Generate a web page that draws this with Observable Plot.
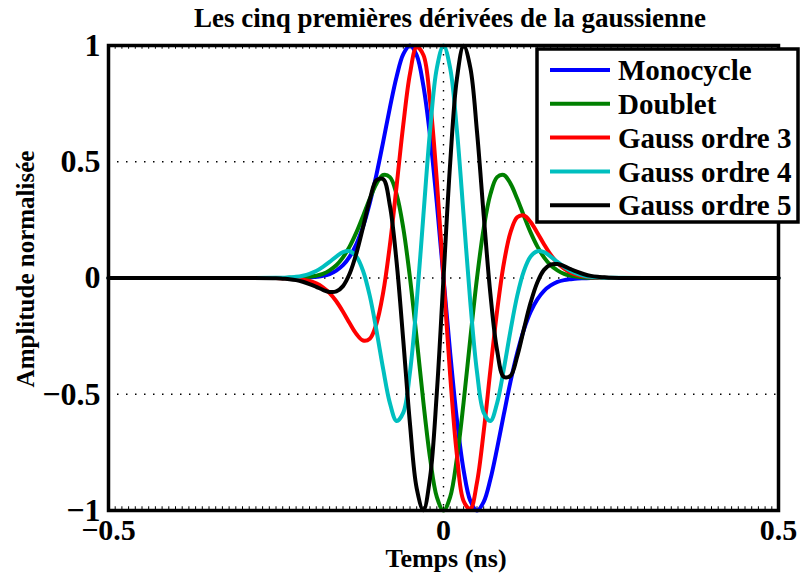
<!DOCTYPE html>
<html>
<head>
<meta charset="utf-8">
<script src="https://cdn.jsdelivr.net/npm/d3@7"></script>
<script src="https://cdn.jsdelivr.net/npm/@observablehq/plot@0.6"></script>
<style>
  body { margin: 0; background: #fff; }
  #chart svg { display: block; }
</style>
</head>
<body>
<div id="chart"></div>
<script>
// Time axis (ns)
const times = [-0.5, -0.3,
  -0.25, -0.24, -0.23, -0.22, -0.21, -0.20, -0.19, -0.18, -0.17, -0.16,
  -0.15, -0.14, -0.13, -0.12, -0.11, -0.10, -0.09, -0.08, -0.07, -0.06,
  -0.05, -0.04, -0.03, -0.02, -0.01, 0,
  0.01, 0.02, 0.03, 0.04, 0.05, 0.06, 0.07, 0.08, 0.09, 0.10,
  0.11, 0.12, 0.13, 0.14, 0.15, 0.16, 0.17, 0.18, 0.19, 0.20,
  0.21, 0.22, 0.23, 0.24, 0.25,
  0.3, 0.5];

// Normalised amplitude of each pulse
const monocycle = [0, 0,
  0, 0, 0, 0, 0.001, 0.002, 0.005, 0.009, 0.017, 0.032,
  0.055, 0.092, 0.146, 0.222, 0.323, 0.446, 0.587, 0.733, 0.866, 0.963,
  1, 0.958, 0.826, 0.609, 0.323, 0,
  -0.323, -0.609, -0.826, -0.958, -1, -0.963, -0.866, -0.733, -0.587, -0.446,
  -0.323, -0.222, -0.146, -0.092, -0.055, -0.032, -0.017, -0.009, -0.005, -0.002,
  -0.001, 0, 0, 0, 0,
  0, 0];

const doublet = [0, 0,
  0, 0, 0.001, 0.001, 0.002, 0.005, 0.010, 0.018, 0.033, 0.055,
  0.089, 0.136, 0.196, 0.267, 0.341, 0.406, 0.443, 0.434, 0.360, 0.214,
  0, -0.261, -0.535, -0.775, -0.941, -1,
  -0.941, -0.775, -0.535, -0.261, 0, 0.214, 0.360, 0.434, 0.443, 0.406,
  0.341, 0.267, 0.196, 0.136, 0.089, 0.055, 0.033, 0.018, 0.010, 0.005,
  0.002, 0.001, 0.001, 0, 0,
  0, 0];

const gauss3 = [0, 0,
  0, -0.001, -0.002, -0.003, -0.007, -0.013, -0.023, -0.040, -0.065, -0.100,
  -0.145, -0.195, -0.241, -0.269, -0.261, -0.196, -0.062, 0.142, 0.396, 0.660,
  0.879, 0.993, 0.959, 0.760, 0.420, 0,
  -0.420, -0.760, -0.959, -0.993, -0.879, -0.660, -0.396, -0.142, 0.062, 0.196,
  0.261, 0.269, 0.241, 0.195, 0.145, 0.100, 0.065, 0.040, 0.023, 0.013,
  0.007, 0.003, 0.002, 0.001, 0,
  0, 0];

const gauss4 = [0, 0,
  0.001, 0.001, 0.003, 0.005, 0.010, 0.018, 0.030, 0.048, 0.069, 0.092,
  0.111, 0.115, 0.092, 0.030, -0.077, -0.226, -0.392, -0.538, -0.615, -0.579,
  -0.404, -0.104, 0.270, 0.636, 0.902, 1,
  0.902, 0.636, 0.270, -0.104, -0.404, -0.579, -0.615, -0.538, -0.392, -0.226,
  -0.077, 0.030, 0.092, 0.115, 0.111, 0.092, 0.069, 0.048, 0.030, 0.018,
  0.010, 0.005, 0.003, 0.001, 0.001,
  0, 0];

const gauss5 = [0, 0,
  -0.001, -0.003, -0.005, -0.009, -0.016, -0.026, -0.038, -0.051, -0.060, -0.058,
  -0.035, 0.019, 0.106, 0.219, 0.337, 0.421, 0.425, 0.311, 0.069, -0.270,
  -0.629, -0.905, -0.999, -0.857, -0.495, 0,
  0.495, 0.857, 0.999, 0.905, 0.629, 0.270, -0.069, -0.311, -0.425, -0.421,
  -0.337, -0.219, -0.106, -0.019, 0.035, 0.058, 0.060, 0.051, 0.038, 0.026,
  0.016, 0.009, 0.005, 0.003, 0.001,
  0, 0];

const seriesNames = ["Monocycle", "Doublet", "Gauss ordre 3", "Gauss ordre 4", "Gauss ordre 5"];
const seriesValues = [monocycle, doublet, gauss3, gauss4, gauss5];
const seriesColors = ["#0000ff", "#008000", "#ff0000", "#00bfbf", "#000000"];

const xTicks = [-0.5, 0, 0.5];
const yTicks = [-1, -0.5, 0, 0.5, 1];
const minorTicks = d3.range(-50, 51).map(i => i / 100);

const titleText = "Les cinq premières dérivées de la gaussienne";
const xLabel = "Temps (ns)";
const yLabel = "Amplitude normalisée";

const rows = seriesNames.flatMap((name, i) =>
  times.map((t, j) => ({t, v: seriesValues[i][j], name})));

const serif = "'Liberation Serif', 'Times New Roman', Times, serif";
const fmt = d3.format("~g");
const dotted = {stroke: "#000", strokeOpacity: 1, strokeWidth: 1.4, strokeDasharray: "1.5,7.5"};

const chart = Plot.plot({
  width: 802,
  height: 576,
  marginLeft: 108,
  marginRight: 24,
  marginTop: 45,
  marginBottom: 66,
  style: {fontFamily: serif, fontWeight: "bold", fontSize: "32px", background: "#fff", color: "#000"},
  x: {domain: [-0.5, 0.5], label: null},
  y: {domain: [-1, 1], label: null},
  color: {domain: seriesNames, range: seriesColors},
  marks: [
    Plot.gridX({ticks: xTicks, ...dotted}),
    Plot.gridY({ticks: yTicks, ...dotted}),
    Plot.ruleX(minorTicks, {x: d => d, y1: -1, y2: -0.984, stroke: "#000", strokeWidth: 1}),
    Plot.ruleX(minorTicks, {x: d => d, y1: 1, y2: 0.984, stroke: "#000", strokeWidth: 1}),
    Plot.line(rows, {x: "t", y: "v", z: "name", stroke: "name", strokeWidth: 4, curve: "catmull-rom"}),
    Plot.frame({stroke: "#000", strokeWidth: 3.5}),
    Plot.axisX({ticks: xTicks, tickSize: 0, tickPadding: 8, tickFormat: fmt, fontSize: 30}),
    Plot.axisY({ticks: yTicks, tickSize: 0, tickPadding: 8, tickFormat: fmt, fontSize: 32})
  ]
});

const svg = d3.select(chart);
svg.style("font-family", serif).style("font-weight", "bold");

// Title
svg.append("text")
  .attr("x", 450).attr("y", 27)
  .attr("text-anchor", "middle")
  .attr("font-size", 27)
  .attr("fill", "#000")
  .text(titleText);

// Axis labels
svg.append("text")
  .attr("x", 446).attr("y", 567)
  .attr("text-anchor", "middle")
  .attr("font-size", 26)
  .attr("fill", "#000")
  .text(xLabel);

svg.append("text")
  .attr("transform", "translate(34,269) rotate(-90)")
  .attr("text-anchor", "middle")
  .attr("font-size", 25)
  .attr("fill", "#000")
  .text(yLabel);

// Legend box
const legend = svg.append("g").attr("text-anchor", "start");
legend.append("rect")
  .attr("x", 537).attr("y", 49)
  .attr("width", 261).attr("height", 173)
  .attr("fill", "#fff")
  .attr("stroke", "#000")
  .attr("stroke-width", 3.5);
seriesNames.forEach((name, i) => {
  const y = 70 + i * 33.8;
  legend.append("line")
    .attr("x1", 550).attr("x2", 610)
    .attr("y1", y).attr("y2", y)
    .attr("stroke", seriesColors[i])
    .attr("stroke-width", 4);
  legend.append("text")
    .attr("x", 618).attr("y", y)
    .attr("dy", "0.35em")
    .attr("text-anchor", "start")
    .attr("font-size", 29)
    .attr("fill", "#000")
    .text(name);
});

document.getElementById("chart").appendChild(chart);
</script>
</body>
</html>
